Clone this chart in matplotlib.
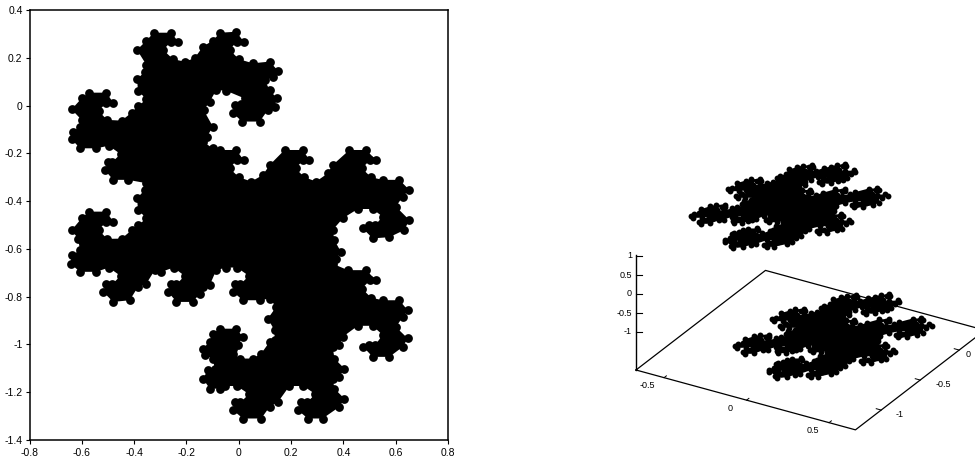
import matplotlib
matplotlib.use("Agg")
import matplotlib.pyplot as plt
from matplotlib.transforms import Affine2D

plt.rcParams["font.family"] = ["Liberation Sans", "DejaVu Sans"]
plt.rcParams["axes.unicode_minus"] = False

# outline of the fractal, going clockwise
outline_x = [-.639,-.601,-.572,-.506,-.480,
    -.506,-.536,-.503,
    -.448,-.410,-.385,-.353,-.385,-.389,-.359,-.353,-.389,-.353,-.325,-.258,-.232,
    -.258,-.289,-.251,
    -.207,-.169,-.137,-.099,-.071,-.010,.019,
    -.007,-.035,.001,
    .054,.118,.150,.130,.099,.118,.146,.137,.111,.080,.013,-.022,-.016,.010,.022,-.048,-.086,-.111,-.134,-.099,-.121,-.137,-.099,-.073,-.010,.019,
    -.007,-.035,.001,
    .048,.092,.118,.175,.245,.270,
    .247,.217,.251,
    .296,.340,.359,.423,.487,.525,
    .502,.471,.506,
    .550,.614,.652,.627,.601,.652,.633,.576,.512,
    .474,.499,.522,.550,.512,.455,
    .398,.359,.366,.391,.372,.359,.417,.487,.525,
    .502,.471,.506,
    .550,.614,.646,.627,.601,.646,.627,.576,.512,
    .476,.499,.522,.550,.512,.455,
    .398,.385,.359,.366,.404,.385,.359,.366,.404,.385,.321,.264,.226,
    .239,.260,.293,.247,.194,
    .150,.118,.086,.016,-.022,
    -.016,.006,.039,-.007,-.054,
    -.073,-.111,-.137,-.118,-.092,-.099,-.130,-.137,-.111,-.099,-.073,-.010,.016,-.003,-.022,-.022,.003,.054,.086,.118,.137,.137,.111,.143,.118,.080,.016,-.022,
    -.016,.006,.039,-.007,-.048,
    -.086,-.111,-.137,-.149,-.175,-.238,-.270,
    -.258,-.238,-.207,-.249,
    -.296,-.321,-.353,-.385,-.417,-.480,-.518,
    -.506,-.484,-.452,-.497,
    -.544,-.607,-.643,-.639,-.607,-.614,-.639,-.601,-.572,-.506,-.480,
    -.506,-.536,-.503,
    -.448,-.410,-.385,-.353,-.385,-.389,-.359,-.353,-.423,-.480,-.512,
    -.499,-.484,-.452,-.497,
    -.544,-.607,-.639,-.633,-.607,-.601]
outline_y = [-.016,.030,.054,.054,.012,
    .012,-.023,-.060,
    -.063,-.030,-.002,.026,.062,.110,.142,.170,.233,.272,.305,.305,.268,
    .268,.233,.194,
    .184,.198,.247,.272,.305,.309,.268,
    .268,.233,.194,
    .177,.184,.146,.118,.107,.065,.030,-.005,-.019,-.067,-.067,-.032,.002,.007,.030,.062,.065,.016,-.019,-.088,-.130,-.151,-.179,-.186,-.186,-.228,
    -.228,-.263,-.300,
    -.318,-.291,-.249,-.186,-.186,-.228,
    -.228,-.263,-.300,
    -.318,-.284,-.249,-.186,-.186,-.228,
    -.228,-.263,-.300,
    -.311,-.311,-.353,-.381,-.423,-.479,-.521,-.551,-.556,
    -.514,-.500,-.500,-.465,-.433,-.433,
    -.472,-.521,-.564,-.613,-.641,-.662,-.689,-.689,-.731,
    -.731,-.766,-.804,
    -.815,-.815,-.857,-.885,-.927,-.975,-1.010,-1.052,-1.052,
    -1.010,-1.002,-1.002,-.960,-.922,-.922,
    -.968,-1.003,-1.010,-1.059,-1.101,-1.136,-1.143,-1.185,-1.227,-1.261,-1.310,-1.310,-1.275,
    -1.241,-1.243,-1.208,-1.174,-1.174,
    -1.241,-1.261,-1.310,-1.310,-1.275,
    -1.241,-1.243,-1.208,-1.174,-1.174,
    -1.185,-1.185,-1.143,-1.108,-1.101,-1.059,-1.045,-1.017,-.989,-.955,-.934,-.934,-.968,-1.003,-1.017,-1.038,-1.059,-1.059,-1.038,-.989,-.982,-.941,-.892,-.843,-.808,-.815,-.815,-.780,
    -.745,-.748,-.713,-.678,-.678,
    -.689,-.752,-.759,-.787,-.822,-.822,-.780,
    -.745,-.748,-.713,-.678,
    -.696,-.689,-.745,-.759,-.815,-.822,-.780,
    -.745,-.748,-.713,-.678,
    -.696,-.696,-.662,-.627,-.606,-.557,-.522,-.472,-.444,-.444,-.486,
    -.486,-.521,-.558,
    -.557,-.522,-.501,-.472,-.437,-.388,-.353,-.325,-.311,-.311,-.270,
    -.235,-.237,-.203,-.168,
    -.179,-.179,-.141,-.109,-.088,-.060]

xticks = [-0.8, -0.6, -0.4, -0.2, 0, 0.2, 0.4, 0.6, 0.8]
xtick_labels = ["-0.8", "-0.6", "-0.4", "-0.2", "0", "0.2", "0.4", "0.6", "0.8"]
yticks = [-1.4, -1.2, -1, -0.8, -0.6, -0.4, -0.2, 0, 0.2, 0.4]
ytick_labels = ["-1.4", "-1.2", "-1", "-0.8", "-0.6", "-0.4", "-0.2", "0", "0.2", "0.4"]

# 3d panel
box_x = [-0.67, 0.66]
box_y = [-1.33, 0.33]
box_xticks = [-0.5, 0, 0.5]
box_xlabels = ["-0.5", "0", "0.5"]
box_yticks = [-1, -0.5, 0]
box_ylabels = ["-1", "-0.5", "0"]
box_zticks = [-1, -0.5, 0, 0.5, 1]
box_zlabels = ["-1", "-0.5", "0", "0.5", "1"]

W, H = 975, 462
fig = plt.figure(figsize=(W / 100, H / 100), dpi=100)

# left panel
ax = fig.add_axes([29.5 / W, 1 - 440 / H, 418.5 / W, 430 / H])
ax.fill(outline_x, outline_y, color="black", lw=0)
ax.scatter(outline_x, outline_y, s=40, color="black", lw=0)
ax.set_xlim(-0.8, 0.8)
ax.set_ylim(-1.4, 0.4)
ax.set_xticks(xticks, xtick_labels)
ax.set_yticks(yticks, ytick_labels)
ax.tick_params(length=3, width=0.8, labelsize=7.5, pad=2)
ax.tick_params(axis="x", pad=3)
for s in ax.spines.values():
    s.set_linewidth(1.1)

# right panel, drawn in figure pixels with affine maps
ax2 = fig.add_axes([0, 0, 1, 1])
ax2.set_xlim(0, W)
ax2.set_ylim(H, 0)
ax2.axis("off")
ax2.patch.set_alpha(0)


def fractal_map(cx, cy):
    return Affine2D.from_values(135, -3, 71.5, -51.5, cx + 0.5 * 71.5, cy + 0.5 * -51.5) + ax2.transData


for cx, cy in [(833, 336), (789, 206)]:
    tr = fractal_map(cx, cy)
    ax2.fill(outline_x, outline_y, color="black", lw=0, transform=tr)
    ax2.scatter(outline_x, outline_y, s=18, color="black", lw=0, transform=tr)

ax_vec = (165, 45)
ay_vec = (78, -60)
ox = 636 - box_x[0] * ax_vec[0] - box_y[0] * ay_vec[0]
oy = 370 - box_x[0] * ax_vec[1] - box_y[0] * ay_vec[1]
box_tr = Affine2D.from_values(ax_vec[0], ax_vec[1], ay_vec[0], ay_vec[1], ox, oy) + ax2.transData

corner_x = [box_x[0], box_x[1], box_x[1], box_x[0], box_x[0]]
corner_y = [box_y[0], box_y[0], box_y[1], box_y[1], box_y[0]]
ax2.plot(corner_x, corner_y, color="black", lw=0.9, transform=box_tr, clip_on=False)

for v, lab in zip(box_xticks, box_xlabels):
    ax2.plot([v, v], [box_y[0], box_y[0] + 0.03], color="black", lw=0.7, transform=box_tr)
    ax2.annotate(lab, (v, box_y[0]), xycoords=box_tr, xytext=(-12, -6), textcoords="offset points",
                 ha="center", va="center", fontsize=6.5)
for v, lab, dx in zip(box_yticks, box_ylabels, [13, 16.5, 6.5]):
    ax2.plot([box_x[1], box_x[1] - 0.03], [v, v], color="black", lw=0.7, transform=box_tr)
    ax2.annotate(lab, (box_x[1], v), xycoords=box_tr, xytext=(dx, -3), textcoords="offset points",
                 ha="center", va="center", fontsize=6.5)

# z axis: -2 at the floor corner, 38 px per unit
z_tr = Affine2D.from_values(1, 0, 0, -38, 636, 370 - 2 * 38) + ax2.transData
ax2.plot([0, 0], [-2, 1.02], color="black", lw=1, transform=z_tr)
for v, lab in zip(box_zticks, box_zlabels):
    ax2.plot([0, 6], [v, v], color="black", lw=0.8, transform=z_tr)
    ax2.annotate(lab, (0, v), xycoords=z_tr, xytext=(-3, 0), textcoords="offset points",
                 ha="right", va="center", fontsize=6.5)

fig.savefig("out.png", dpi=100)
